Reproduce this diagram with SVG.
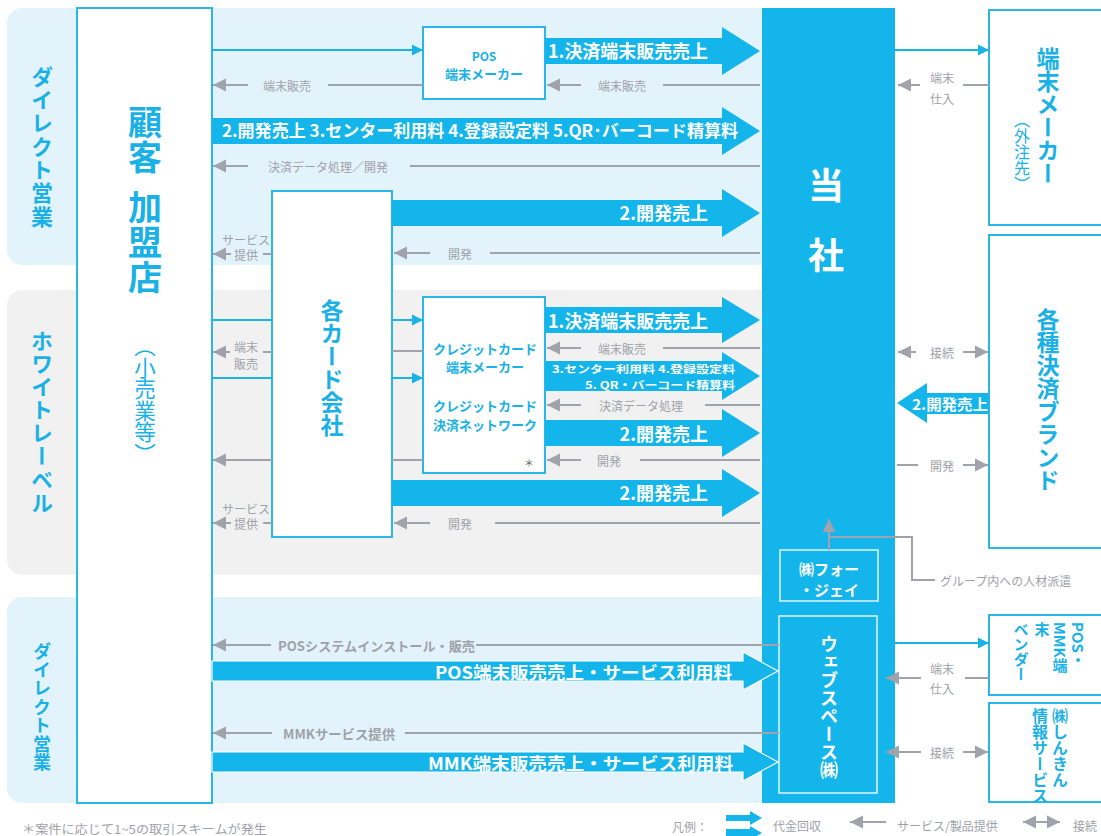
<svg xmlns="http://www.w3.org/2000/svg" width="1101" height="836" viewBox="0 0 1101 836">
<defs>
<style>
.bb{fill:#e3f3fb}
.bg{fill:#f1f1f1}
.box{fill:#fff;stroke:#2bb6e9;stroke-width:2}
.wbox{fill:none;stroke:#d6f1fb;stroke-width:1.6}
.thick{fill:#14b5eb}
.bl{stroke:#1ab3e8;stroke-width:2;fill:none}
.gl{stroke:#a0a3ab;stroke-width:2;fill:none}
text{font-family:"Noto Sans CJK JP","Noto Sans",sans-serif;dominant-baseline:central}
.tw{fill:#fff;font-weight:700}
.tg{fill:#9ea1a9;font-size:12px}
.tgb{fill:#9ea1a9;font-size:13px;font-weight:700}
.tb{fill:#1ab1e6;font-weight:700}
.v{writing-mode:vertical-rl}
</style>
<marker id="ab" markerUnits="userSpaceOnUse" markerWidth="12" markerHeight="12" refX="11" refY="6" orient="auto"><path d="M0,0.5 L11,6 L0,11.5 z" fill="#1ab3e8"/></marker>
<marker id="ag" markerUnits="userSpaceOnUse" markerWidth="14" markerHeight="14" refX="13" refY="7" orient="auto-start-reverse"><path d="M0,0.5 L13,7 L0,13.5 z" fill="#a0a3ab"/></marker>
<clipPath id="cpShin"><rect x="989" y="703" width="120" height="99"/></clipPath>
</defs>

<g id="bands">
<rect class="bb" x="7" y="8" width="770" height="257" rx="15"/>
<rect class="bg" x="7" y="290" width="770" height="285" rx="15"/>
<rect class="bb" x="7" y="597" width="770" height="206" rx="15"/>
<text class="tb v" x="42" y="147" font-size="22" text-anchor="middle" letter-spacing="1.3">ダイレクト営業</text>
<text class="tb v" x="42" y="422" font-size="22" text-anchor="middle" letter-spacing="1.1">ホワイトレーベル</text>
<text class="tb v" x="42" y="707" font-size="18" text-anchor="middle" letter-spacing="0.5">ダイレクト営業</text>
</g>

<g id="customer">
<rect class="box" x="77" y="8" width="135" height="795"/>
<text class="tb v" x="145" y="140" font-size="34" text-anchor="middle" letter-spacing="1">顧客</text>
<text class="tb v" x="145" y="243" font-size="34" text-anchor="middle" letter-spacing="1">加盟店</text>
<text class="tb v" x="145" y="400" font-size="21.5" text-anchor="middle" style="font-weight:400">（小売業等）</text>
</g>

<g id="tousha">
<rect x="762" y="8" width="133" height="795" fill="#14b5eb"/>
<text class="tw" x="826" y="183" font-size="36" text-anchor="middle">当</text>
<text class="tw" x="826" y="253" font-size="36" text-anchor="middle">社</text>
</g>

<g id="fourj">
<rect class="wbox" x="780" y="550" width="98" height="51"/>
<text class="tw" x="829" y="568" font-size="15" text-anchor="middle">㈱フォー</text>
<text class="tw" x="829" y="589" font-size="15" text-anchor="middle">・ジェイ</text>
</g>

<g id="webspace">
<rect class="wbox" x="779" y="616" width="98" height="177"/>
<text class="tw v" x="829" y="707" font-size="18" text-anchor="middle">ウェブスペース㈱</text>
</g>

<g id="pos-maker">
<rect class="box" x="423" y="27" width="122" height="72"/>
<text class="tb" x="484" y="55" font-size="12" text-anchor="middle">POS</text>
<text class="tb" x="484" y="73" font-size="13" text-anchor="middle">端末メーカー</text>
</g>

<g id="card-company">
<rect class="box" x="272" y="191" width="120" height="346"/>
<text class="tb v" x="332" y="368" font-size="23" text-anchor="middle">各カード会社</text>
</g>

<g id="credit">
<rect class="box" x="423" y="297" width="122" height="176"/>
<text class="tb" x="485" y="348" font-size="13" text-anchor="middle">クレジットカード</text>
<text class="tb" x="485" y="366" font-size="13" text-anchor="middle">端末メーカー</text>
<text class="tb" x="485" y="405" font-size="13" text-anchor="middle">クレジットカード</text>
<text class="tb" x="485" y="424" font-size="13" text-anchor="middle">決済ネットワーク</text>
<text x="529" y="462" font-size="10" fill="#666" text-anchor="middle">＊</text>
</g>

<g id="terminal-maker">
<rect class="box" x="989" y="10" width="130" height="215"/>
<text class="tb v" x="1048" y="116" font-size="23" text-anchor="middle">端末メーカー</text>
<text class="tb v" x="1022" y="152" font-size="16" text-anchor="middle" style="font-weight:400">（外注先）</text>
</g>

<g id="brands">
<rect class="box" x="989" y="235" width="130" height="313"/>
<text class="tb v" x="1048" y="400" font-size="23" text-anchor="middle">各種決済ブランド</text>
</g>

<g id="vendor">
<rect class="box" x="989" y="615" width="130" height="80"/>
<text class="tb v" x="1078" y="622" font-size="15">POS・</text>
<text class="tb v" x="1060" y="622" font-size="15">MMK端</text>
<text class="tb v" x="1042" y="622" font-size="15">末</text>
<text class="tb v" x="1021" y="622" font-size="15">ベンダー</text>
</g>

<g id="shinkin">
<rect class="box" x="989" y="703" width="130" height="99"/>
<g clip-path="url(#cpShin)">
<text class="tb v" x="1060" y="708" font-size="16">㈱しんきん</text>
<text class="tb v" x="1040" y="708" font-size="16">情報サービス</text>
</g>
</g>

<g id="connectors">
<path class="bl" d="M212,50 H423" marker-end="url(#ab)"/>
<path class="bl" d="M895,50 H989" marker-end="url(#ab)"/>
<path class="bl" d="M212,320 H272 M212,378 H272"/>
<path class="bl" d="M392,320 H423" marker-end="url(#ab)"/>
<path class="bl" d="M392,378 H423" marker-end="url(#ab)"/>
<path class="bl" d="M895,643 H989" marker-end="url(#ab)"/>

<path class="gl" d="M423,85 H328"/><path class="gl" d="M248,85 H213" marker-end="url(#ag)"/>
<path class="gl" d="M760,85 H663"/><path class="gl" d="M581,85 H547" marker-end="url(#ag)"/>
<path class="gl" d="M989,85 H963"/><path class="gl" d="M920,85 H898" marker-end="url(#ag)"/>
<path class="gl" d="M760,166 H410"/><path class="gl" d="M248,166 H213" marker-end="url(#ag)"/>
<path class="gl" d="M760,253 H490"/><path class="gl" d="M430,253 H394" marker-end="url(#ag)"/>
<path class="gl" d="M272,254 H263"/><path class="gl" d="M231,254 H213" marker-end="url(#ag)"/>
<path class="gl" d="M272,352 H263"/><path class="gl" d="M230,352 H213" marker-end="url(#ag)"/>
<path class="gl" d="M423,351 H392"/>
<path class="gl" d="M760,348 H663"/><path class="gl" d="M581,348 H547" marker-end="url(#ag)"/>
<path class="gl" d="M760,405 H705"/><path class="gl" d="M581,405 H547" marker-end="url(#ag)"/>
<path class="gl" d="M760,460 H640"/><path class="gl" d="M581,460 H547" marker-end="url(#ag)"/>
<path class="gl" d="M423,460 H392"/>
<path class="gl" d="M272,460 H213" marker-end="url(#ag)"/>
<path class="gl" d="M760,523 H495"/><path class="gl" d="M430,523 H394" marker-end="url(#ag)"/>
<path class="gl" d="M272,523 H263"/><path class="gl" d="M231,523 H213" marker-end="url(#ag)"/>
<path class="gl" d="M916,352 H898" marker-end="url(#ag)"/><path class="gl" d="M963,352 H988" marker-end="url(#ag)"/>
<path class="gl" d="M897,465 H918"/><path class="gl" d="M963,465 H988" marker-end="url(#ag)"/>
<path class="gl" d="M779,645 H476"/><path class="gl" d="M271,645 H213" marker-end="url(#ag)"/>
<path class="gl" d="M779,733 H405"/><path class="gl" d="M272,733 H213" marker-end="url(#ag)"/>
<path class="gl" d="M989,678 H965"/><path class="gl" d="M921,678 H886" marker-end="url(#ag)"/>
<path class="gl" d="M921,752 H886" marker-end="url(#ag)"/><path class="gl" d="M963,752 H988" marker-end="url(#ag)"/>
<path class="gl" d="M829,550 V519" marker-end="url(#ag)"/>
<path class="gl" d="M829,537 H912 V580 H935"/>

<polygon class="thick" points="545,38 722,38 722,27 760,51 722,75 722,64 545,64"/>
<polygon class="thick" points="212,118 722,118 722,107 760,131 722,155 722,144 212,144"/>
<polygon class="thick" points="392,200 722,200 722,189 760,213 722,237 722,226 392,226"/>
<polygon class="thick" points="545,307 722,307 722,297 760,320 722,343 722,333 545,333"/>
<polygon class="thick" points="545,361 722,361 722,352 760,376 722,400 722,391 545,391"/>
<polygon class="thick" points="545,420 722,420 722,409 760,433 722,457 722,446 545,446"/>
<polygon class="thick" points="392,480 722,480 722,469 760,493 722,517 722,506 392,506"/>
<polygon class="thick" points="989,393 927,393 927,383 897,403 927,423 927,414 989,414"/>
<polygon class="thick" points="212,661 743,661 743,652 778,671 743,690 743,681 212,681" stroke="#fff" stroke-width="1.2"/>
<polygon class="thick" points="212,752 743,752 743,743 778,762 743,781 743,772 212,772" stroke="#fff" stroke-width="1.2"/>
</g>

<g id="labels">
<text class="tw" x="548" y="50" font-size="18" textLength="160" lengthAdjust="spacingAndGlyphs">1.決済端末販売売上</text>
<text class="tw" x="222" y="130" font-size="16.5" textLength="516" lengthAdjust="spacingAndGlyphs">2.開発売上 3.センター利用料 4.登録設定料 5.QR･バーコード精算料</text>
<text class="tw" x="708" y="212" font-size="18" text-anchor="end">2.開発売上</text>
<text class="tw" x="548" y="320" font-size="18" textLength="160" lengthAdjust="spacingAndGlyphs">1.決済端末販売売上</text>
<text class="tw" x="552" y="368.5" font-size="10.5" textLength="183" lengthAdjust="spacingAndGlyphs">3.センター利用料 4.登録設定料</text>
<text class="tw" x="585" y="384" font-size="10.5" textLength="150" lengthAdjust="spacingAndGlyphs">5. QR・バーコード精算料</text>
<text class="tw" x="708" y="433" font-size="18" text-anchor="end">2.開発売上</text>
<text class="tw" x="708" y="492" font-size="18" text-anchor="end">2.開発売上</text>
<text class="tw" x="912" y="403" font-size="14.5" textLength="76" lengthAdjust="spacingAndGlyphs">2.開発売上</text>
<text class="tw" x="435" y="671" font-size="17" textLength="297" lengthAdjust="spacingAndGlyphs">POS端末販売売上・サービス利用料</text>
<text class="tw" x="428" y="762" font-size="17" textLength="305" lengthAdjust="spacingAndGlyphs">MMK端末販売売上・サービス利用料</text>

<text class="tg" x="287" y="85" text-anchor="middle">端末販売</text>
<text class="tg" x="622" y="85" text-anchor="middle">端末販売</text>
<text class="tg" x="942" y="77" text-anchor="middle">端末</text>
<text class="tg" x="942" y="98" text-anchor="middle">仕入</text>
<text class="tg" x="328" y="166" text-anchor="middle" font-size="12.5">決済データ処理／開発</text>
<text class="tg" x="460" y="253" text-anchor="middle">開発</text>
<text class="tg" x="246" y="239" text-anchor="middle">サービス</text>
<text class="tg" x="246" y="254" text-anchor="middle">提供</text>
<text class="tg" x="246" y="346" text-anchor="middle">端末</text>
<text class="tg" x="246" y="363" text-anchor="middle">販売</text>
<text class="tg" x="622" y="348" text-anchor="middle">端末販売</text>
<text class="tg" x="641" y="405" text-anchor="middle" font-size="12.5">決済データ処理</text>
<text class="tg" x="609" y="460" text-anchor="middle">開発</text>
<text class="tg" x="460" y="523" text-anchor="middle">開発</text>
<text class="tg" x="246" y="508" text-anchor="middle">サービス</text>
<text class="tg" x="246" y="523" text-anchor="middle">提供</text>
<text class="tg" x="942" y="352" text-anchor="middle">接続</text>
<text class="tg" x="942" y="465" text-anchor="middle">開発</text>
<text class="tgb" x="278" y="645" textLength="197" lengthAdjust="spacingAndGlyphs">POSシステムインストール・販売</text>
<text class="tgb" x="283" y="733" textLength="112" lengthAdjust="spacingAndGlyphs">MMKサービス提供</text>
<text class="tg" x="942" y="668" text-anchor="middle">端末</text>
<text class="tg" x="942" y="688" text-anchor="middle">仕入</text>
<text class="tg" x="942" y="752" text-anchor="middle">接続</text>
<text class="tg" x="940" y="580" font-size="11.5">グループ内への人材派遣</text>
</g>

<g id="footer">
<text class="tg" x="22" y="828" font-size="11.5" textLength="245" lengthAdjust="spacingAndGlyphs">＊案件に応じて1~5の取引スキームが発生</text>
<text class="tg" x="672" y="826" font-size="11.5">凡例：</text>
<polygon class="thick" points="726,815 750,815 750,811 762,818 750,825 750,821 726,821"/>
<polygon class="thick" points="726,829 750,829 750,826 762,833 750,840 750,836 726,836"/>
<text class="tg" x="773" y="825" font-size="12">代金回収</text>
<path class="gl" d="M886,822 H850" marker-end="url(#ag)"/>
<text class="tg" x="897" y="825" font-size="12">サービス/製品提供</text>
<path class="gl" d="M1023,822 H1060" marker-start="url(#ag)" marker-end="url(#ag)"/>
<text class="tg" x="1073" y="825" font-size="12">接続</text>
</g>
</svg>
